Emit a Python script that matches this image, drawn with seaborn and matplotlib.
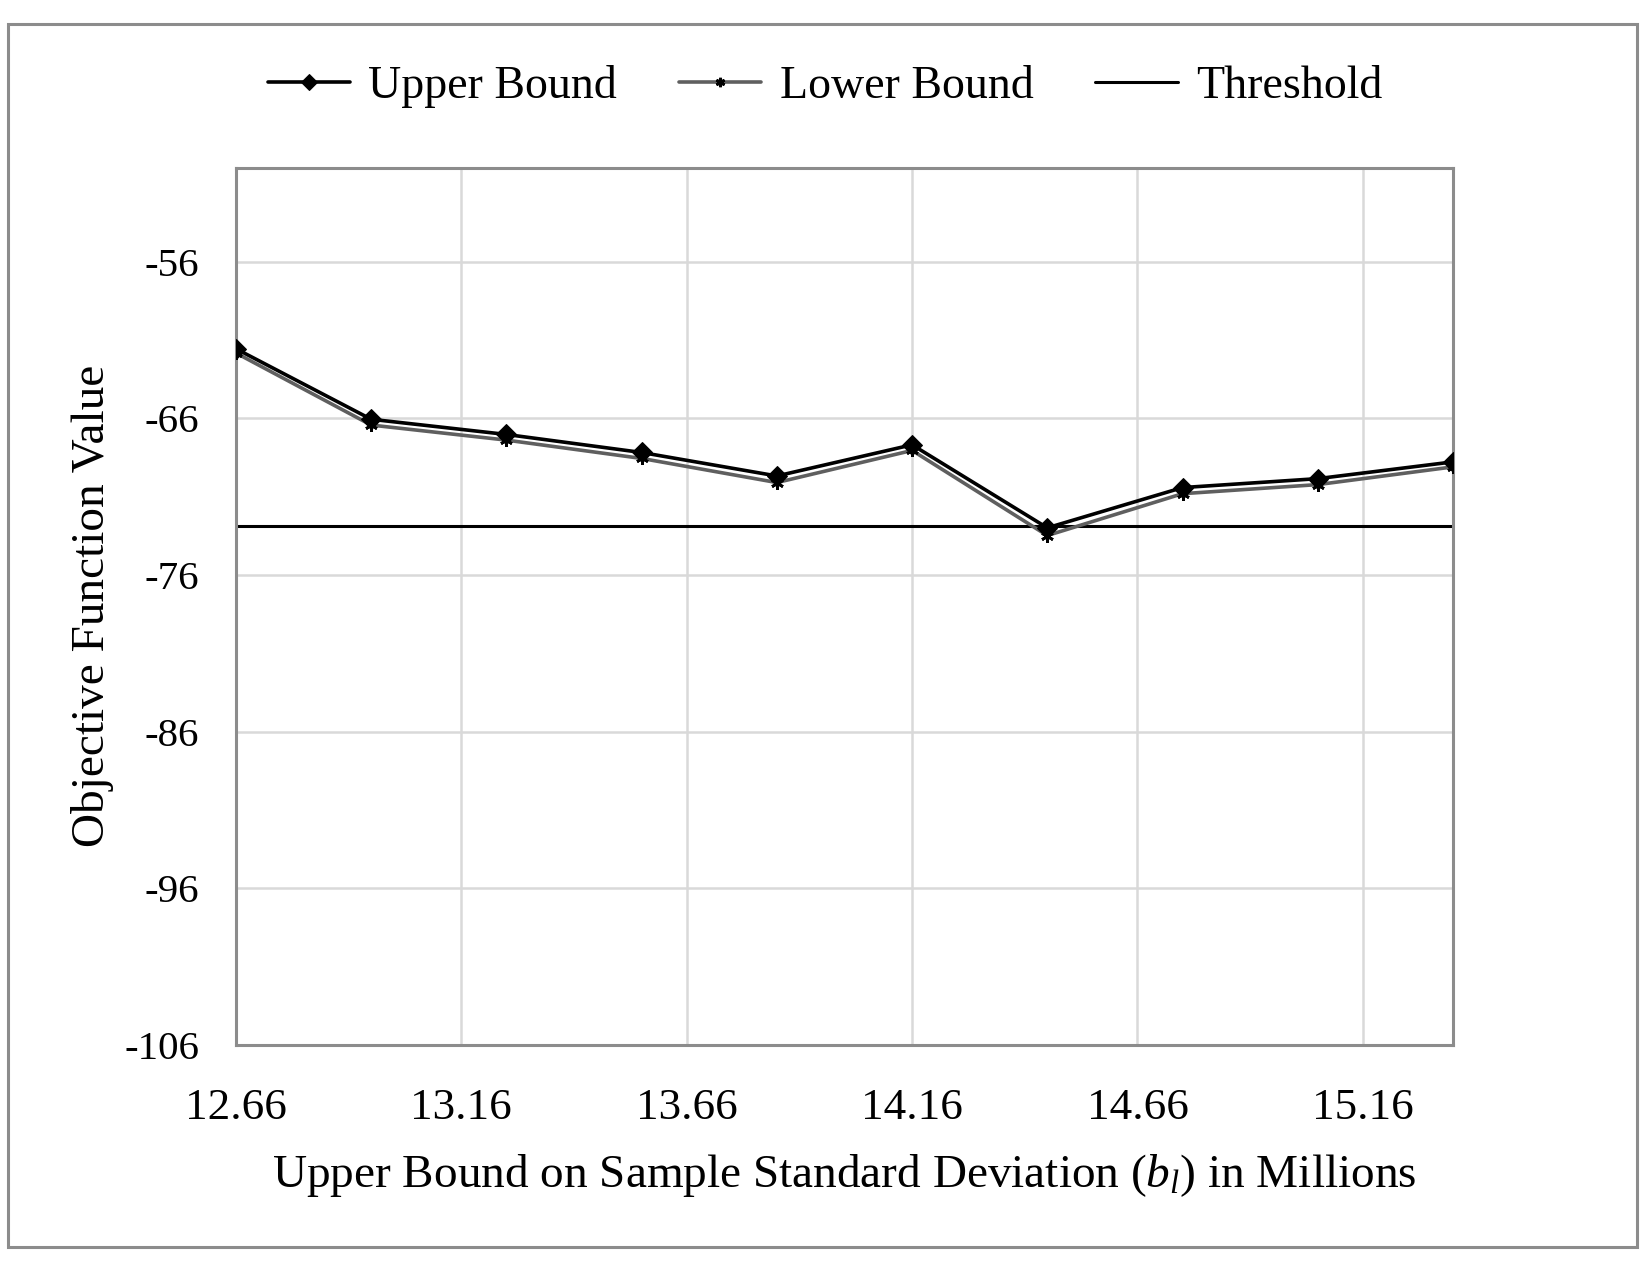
import matplotlib
matplotlib.use("Agg")
import matplotlib.pyplot as plt
import seaborn as sns
import pandas as pd
from matplotlib.patches import Rectangle

# ---- data ----
x_values = [12.66, 12.96, 13.26, 13.56, 13.86, 14.16, 14.46, 14.76, 15.06, 15.36]
upper_bound = [-61.56, -66.06, -67.03, -68.18, -69.68, -67.69, -72.99, -70.42, -69.85, -68.78]
lower_bound = [-61.83, -66.43, -67.39, -68.56, -70.10, -68.05, -73.48, -70.81, -70.23, -69.10]
threshold = -72.90
x_ticks = [12.66, 13.16, 13.66, 14.16, 14.66, 15.16]
y_ticks = [-106, -96, -86, -76, -66, -56]
series_names = ["Upper Bound", "Lower Bound", "Threshold"]

sns.set_style("white")
plt.rcParams['font.family'] = ['Liberation Serif', 'DejaVu Serif']
plt.rcParams['mathtext.fontset'] = 'custom'
plt.rcParams['mathtext.rm'] = 'Liberation Serif'
plt.rcParams['mathtext.it'] = 'Liberation Serif:italic'
plt.rcParams['text.color'] = 'black'
plt.rcParams['axes.labelcolor'] = 'black'
plt.rcParams['xtick.color'] = 'black'
plt.rcParams['ytick.color'] = 'black'

fig = plt.figure(figsize=(16.5, 12.75), dpi=100)
ax = fig.add_axes([0.1430, 0.1804, 0.7376, 0.6881])

df = pd.DataFrame({"x": x_values, "upper": upper_bound, "lower": lower_bound})

sns.lineplot(data=df, x="x", y="lower", ax=ax, color="#5f5f5f", linewidth=2.6,
             marker=(6, 2, 0), markersize=9, markeredgecolor="black",
             markeredgewidth=2.0, label=series_names[1], zorder=3)
sns.lineplot(data=df, x="x", y="upper", ax=ax, color="black", linewidth=2.6,
             marker="D", markersize=10.5, markeredgecolor="black",
             markerfacecolor="black", label=series_names[0], zorder=4)
ax.axhline(threshold, color="black", linewidth=2.2, label=series_names[2], zorder=2)

ax.set_xlim(12.66, 15.36)
ax.set_ylim(-106, -50)
ax.set_xticks(x_ticks)
ax.set_xticklabels([f"{t:.2f}" for t in x_ticks])
ax.set_yticks(y_ticks)
ax.set_yticklabels([str(t) for t in y_ticks])

ax.grid(True, color="#d9d9d9", linewidth=1.8)
ax.set_axisbelow(True)
for s in ax.spines.values():
    s.set_color("#8c8c8c")
    s.set_linewidth(2.2)

ax.tick_params(axis="y", length=8.6, width=2.2, color="#8c8c8c", labelcolor="black",
               pad=18, labelsize=29.5)
ax.tick_params(axis="x", length=0, pad=31, labelsize=32.5, labelcolor="black")

ax.set_xlabel("Upper Bound on Sample Standard Deviation ($\\it{b_l}$) in Millions",
              fontsize=34, labelpad=17)
ax.set_ylabel("Objective Function Value", fontsize=34, labelpad=7)

handles, labels = ax.get_legend_handles_labels()
order = [labels.index(n) for n in series_names]
leg = fig.legend([handles[i] for i in order], [labels[i] for i in order],
                 loc="center", bbox_to_anchor=(0.5, 0.932), ncol=3, frameon=False,
                 fontsize=33, handlelength=1.8, handletextpad=0.4,
                 columnspacing=1.35, markerscale=0.75)
if ax.get_legend() is not None:
    ax.get_legend().remove()

fig.patches.append(Rectangle((0.0048, 0.022), 0.9873, 0.959, transform=fig.transFigure,
                             fill=False, edgecolor="#8c8c8c", linewidth=2.2))

fig.savefig("out.png", dpi=100, facecolor="white")
